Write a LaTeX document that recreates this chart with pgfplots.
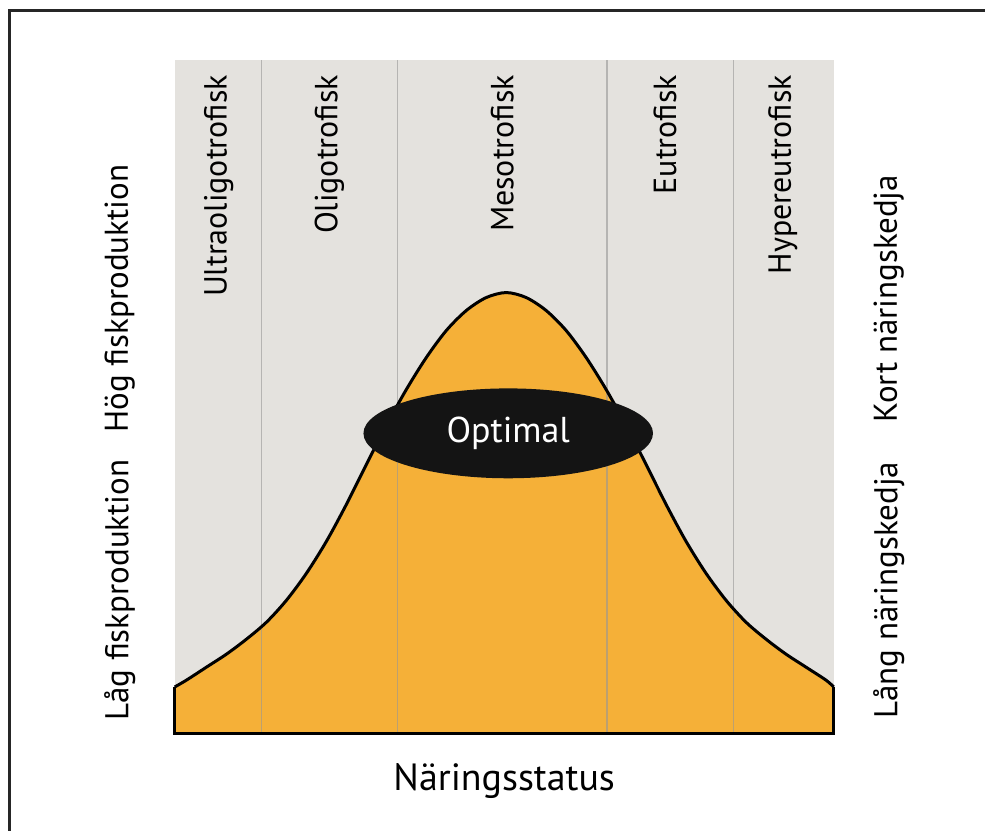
\documentclass[border=0pt]{standalone}
\usepackage{pgfplots}
\pgfplotsset{compat=1.18}
\usepackage{fontspec}
\setmainfont{PT Sans}
\definecolor{bggray}{RGB}{228,226,222}
\definecolor{fishorange}{RGB}{245,176,56}
\definecolor{sepline}{RGB}{150,150,150}
\pgfplotstableread{
x h
175 47
187 54
207 67
227 80
247 95
267 112
287 134
307 161
327 193
347 230
367 270
387 309
407 345
427 377
447 404
467 424
487 437
507 442
527 437
547 424
567 404
587 377
607 345
627 309
647 270
667 230
687 193
707 161
727 134
747 112
767 95
787 80
807 67
827 54
835 47
}\bellcurve
\begin{document}
\begin{tikzpicture}
\begin{axis}[x=1pt, y=1pt, xmin=175, xmax=835, ymin=0, ymax=675,
  hide axis, clip=false]
% canvas (pixel frame of the reference)
\path (axis cs:0,735) rectangle (axis cs:986,-97);
% outer frame (top and left)
\draw[line width=3pt, black!85] (axis cs:10,-97) -- (axis cs:10,724) -- (axis cs:986,724);
% gray panel
\fill[bggray] (axis cs:175,0) rectangle (axis cs:835,675);
% bell area
\addplot[fill=fishorange, draw=none, smooth] table[x=x, y=h] {\bellcurve} \closedcycle;
% separators
\pgfplotsinvokeforeach{262,398,608,735}{
  \draw[sepline, line width=1.2pt, opacity=0.6] (axis cs:#1,0) -- (axis cs:#1,675);
}
% outline
\addplot[draw=black, line width=3pt, smooth] table[x=x, y=h] {\bellcurve};
\draw[black, line width=3pt, line join=miter] (axis cs:175,47) -- (axis cs:175,0) -- (axis cs:835,0) -- (axis cs:835,47);
% ellipse
\fill[black!92] (axis cs:509,301) ellipse [x radius=145pt, y radius=45pt];
\node[white, font=\fontsize{36}{36}\selectfont] at (axis cs:509,301) {Optimal};
% category labels
\begin{scope}[every node/.style={rotate=90, anchor=east, inner sep=0pt, font=\fontsize{32}{32}\selectfont}]
\node at (axis cs:219,660) {Ultraoligotrofisk};
\node at (axis cs:330,660) {Oligotrofisk};
\node at (axis cs:503,660) {Mesotrofisk};
\node at (axis cs:666,660) {Eutrofisk};
\node at (axis cs:784,660) {Hypereutrofisk};
\end{scope}
% side labels
\begin{scope}[every node/.style={rotate=90, inner sep=0pt, font=\fontsize{33}{33}\selectfont}]
\node[anchor=west] at (axis cs:120,13) {Låg fiskproduktion};
\node[anchor=east] at (axis cs:120,570) {Hög fiskproduktion};
\node[anchor=west] at (axis cs:890,15) {Lång näringskedja};
\node[anchor=east] at (axis cs:890,560) {Kort näringskedja};
\end{scope}
\node[anchor=base, font=\fontsize{38}{38}\selectfont] at (axis cs:505,-57) {Näringsstatus};
\end{axis}
\end{tikzpicture}
\end{document}
